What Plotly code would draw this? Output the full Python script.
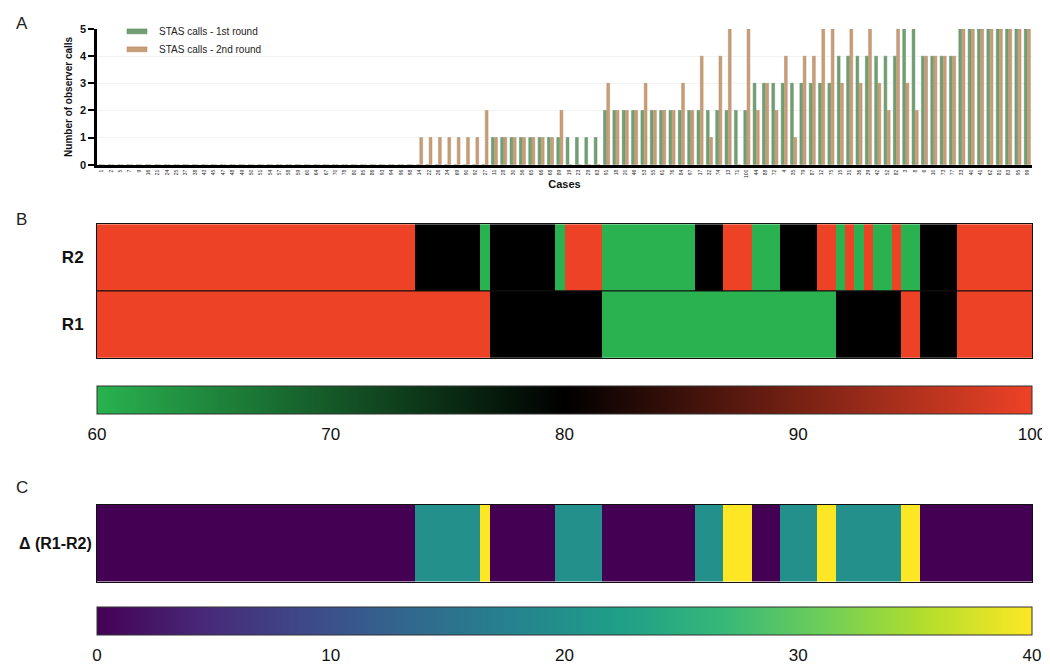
import plotly.graph_objects as go

# the page body adds an 8px margin; the figure is sized to fit the window after it
OFF = 8
W, H = 1050 - OFF, 671 - OFF

cases = ["1", "2", "5", "7", "9", "16", "21", "24", "25", "37", "38", "43", "45", "47", "48", "49", "50",
         "51", "54", "57", "58", "59", "60", "64", "67", "70", "78", "80", "85", "86", "93", "94", "96", "98",
         "14", "22", "26", "34", "69", "90", "92",
         "27",
         "11", "28", "30", "56", "65", "66", "68", "89",
         "19", "23", "29", "63",
         "91", "18", "20", "46", "53", "55", "61", "76", "84", "97",
         "17", "32", "74", "13", "71", "100",
         "44", "88", "72", "4", "35", "79", "87", "12", "75",
         "15", "31", "36", "39", "42", "52", "82", "3", "8",
         "6", "10", "73", "77", "33", "40", "41", "62", "81", "83", "95", "99"]

calls_r1 = [0, 0, 0, 0, 0, 0, 0, 0, 0, 0, 0, 0, 0, 0, 0, 0, 0,
            0, 0, 0, 0, 0, 0, 0, 0, 0, 0, 0, 0, 0, 0, 0, 0, 0,
            0, 0, 0, 0, 0, 0, 0,
            0,
            1, 1, 1, 1, 1, 1, 1, 1,
            1, 1, 1, 1,
            2, 2, 2, 2, 2, 2, 2, 2, 2, 2,
            2, 2, 2, 2, 2, 2,
            3, 3, 3, 3, 3, 3, 3, 3, 3,
            4, 4, 4, 4, 4, 4, 4, 5, 5,
            4, 4, 4, 4, 5, 5, 5, 5, 5, 5, 5, 5]

calls_r2 = [0, 0, 0, 0, 0, 0, 0, 0, 0, 0, 0, 0, 0, 0, 0, 0, 0,
            0, 0, 0, 0, 0, 0, 0, 0, 0, 0, 0, 0, 0, 0, 0, 0, 0,
            1, 1, 1, 1, 1, 1, 1,
            2,
            1, 1, 1, 1, 1, 1, 1, 2,
            0, 0, 0, 0,
            3, 2, 2, 2, 3, 2, 2, 2, 3, 2,
            4, 1, 4, 5, 0, 5,
            2, 3, 2, 4, 1, 4, 4, 5, 5,
            3, 5, 3, 5, 3, 2, 5, 3, 2,
            4, 4, 4, 4, 5, 5, 5, 5, 5, 5, 5, 5]

series_names = ["STAS calls - 1st round", "STAS calls - 2nd round"]
row_labels = ["R1", "R2"]
delta_label = "Δ (R1-R2)"
agree_ticks = [60, 70, 80, 90, 100]
delta_ticks = [0, 10, 20, 30, 40]
n_obs = 5

# percent agreement among observers, derived from the call counts
agree_r1 = [max(c, n_obs - c) * 100 / n_obs for c in calls_r1]
agree_r2 = [max(c, n_obs - c) * 100 / n_obs for c in calls_r2]
delta = [abs(a - b) for a, b in zip(agree_r1, agree_r2)]

GREEN_BAR = "#72a074"
TAN_BAR = "#c89e78"
FONT = "Liberation Sans, Arial, sans-serif"


def px_x(p):
    return (p - OFF) / W


def px_y(p):
    return 1 - (p - OFF) / H


LEFT, RIGHT = 97, 1032
XDOM = [px_x(LEFT), px_x(RIGHT)]
CB_LEN = RIGHT - LEFT
CB_B_TOP, CB_C_TOP, CB_THICK = 387, 612, 28

fig = go.Figure()

# Panel A bars
fig.add_trace(go.Bar(x=cases, y=calls_r1, name=series_names[0], marker=dict(color=GREEN_BAR, line=dict(color="#5c8a5e", width=0.5)),
                     xaxis="x", yaxis="y", showlegend=False))
fig.add_trace(go.Bar(x=cases, y=calls_r2, name=series_names[1], marker=dict(color=TAN_BAR, line=dict(color="#b08660", width=0.5)),
                     xaxis="x", yaxis="y", showlegend=False))


def cbar(top, tickvals):
    return dict(orientation="h", lenmode="pixels", len=CB_LEN, thickness=CB_THICK,
                x=px_x((LEFT + RIGHT) / 2), xanchor="center", y=px_y(top), yanchor="top",
                tickvals=tickvals, ticks="outside", ticklen=6, tickcolor="rgba(0,0,0,0)",
                tickfont=dict(size=17, family=FONT, color="#111"),
                outlinewidth=1, outlinecolor="#333", xpad=0, ypad=0)


# Panel B heatmap
gbr = [[0.0, "#29b24f"], [0.5, "#000000"], [1.0, "#ee4227"]]
fig.add_trace(go.Heatmap(z=[agree_r1, agree_r2], x=cases, y=row_labels, xaxis="x2", yaxis="y2",
                         colorscale=gbr, zmin=agree_ticks[0], zmax=agree_ticks[-1],
                         colorbar=cbar(CB_B_TOP, agree_ticks)))

# Panel C heatmap
fig.add_trace(go.Heatmap(z=[delta], x=cases, y=[delta_label], xaxis="x3", yaxis="y3",
                         colorscale="Viridis", zmin=delta_ticks[0], zmax=delta_ticks[-1],
                         colorbar=cbar(CB_C_TOP, delta_ticks)))

shapes = []
annotations = []

# small inside tick marks on the colour bars (top and bottom edges)
for top, tv in [(CB_B_TOP, agree_ticks), (CB_C_TOP, delta_ticks)]:
    lo, hi = tv[0], tv[-1]
    for v in tv[1:-1]:
        xp = px_x(LEFT + (v - lo) / (hi - lo) * CB_LEN)
        for y0, y1 in [(top, top + 4), (top + CB_THICK - 4, top + CB_THICK)]:
            shapes.append(dict(type="line", xref="paper", yref="paper", x0=xp, x1=xp,
                               y0=px_y(y0), y1=px_y(y1), line=dict(color="#222", width=1.2)))

# manual legend for panel A
leg_y = [25.7, 44.0]
leg_colors = [(GREEN_BAR, "#5c8a5e"), (TAN_BAR, "#b08660")]
for name, yy, (fc, lc) in zip(series_names, leg_y, leg_colors):
    shapes.append(dict(type="rect", xref="paper", yref="paper", x0=px_x(127), x1=px_x(147),
                       y0=px_y(yy + 2.5), y1=px_y(yy - 2.5), fillcolor=fc, line=dict(color=lc, width=0.5)))
    annotations.append(dict(text=name, xref="paper", yref="paper", x=px_x(157), y=px_y(yy),
                            xanchor="left", yanchor="middle", showarrow=False,
                            font=dict(size=10, family=FONT, color="#222")))

# separator line between R1 and R2
shapes.append(dict(type="line", xref="x2 domain", yref="y2 domain", x0=0, x1=1, y0=0.5, y1=0.5,
                   line=dict(color="#111", width=1.2)))

for letter, yy in [("A", 18), ("B", 217), ("C", 490)]:
    annotations.append(dict(text=letter, xref="paper", yref="paper", x=px_x(14), y=px_y(yy),
                            xanchor="left", yanchor="middle", showarrow=False,
                            font=dict(size=17, family=FONT, color="#222")))

fig.update_layout(
    width=W, height=H, margin=dict(l=0, r=0, t=0, b=0),
    paper_bgcolor="white", plot_bgcolor="white",
    barmode="group", bargap=0.3, bargroupgap=0.15,
    font=dict(family=FONT, color="#111"),
    shapes=shapes, annotations=annotations,
    xaxis=dict(domain=XDOM, anchor="y", type="category", range=[-0.5, len(cases) - 0.5],
               showline=True, linecolor="black", linewidth=3, ticks="", showgrid=False,
               tickangle=-90, tickfont=dict(size=5, family=FONT, color="#222"),
               title=dict(text="<b>Cases</b>", font=dict(size=11, family=FONT, color="#111"), standoff=4)),
    yaxis=dict(domain=[px_y(161.5), px_y(23.3)], anchor="x", range=[0, 5], tickvals=[0, 1, 2, 3, 4, 5],
               showline=True, linecolor="black", linewidth=2.5, ticks="outside", ticklen=6, tickwidth=2,
               tickcolor="black", showgrid=True, gridcolor="#f2f2f2", gridwidth=1, zeroline=False,
               tickfont=dict(size=11, family=FONT, color="#111", weight="bold"),
               title=dict(text="<b>Number of observer calls</b>", font=dict(size=10, family=FONT, color="#111"), standoff=6)),
    xaxis2=dict(domain=XDOM, anchor="y2", type="category", showticklabels=False, ticks="",
                showline=True, mirror=True, linecolor="#111", linewidth=1, showgrid=False),
    yaxis2=dict(domain=[px_y(358), px_y(222)], anchor="x2", type="category", ticks="",
                showline=True, mirror=True, linecolor="#111", linewidth=1, showgrid=False,
                tickfont=dict(size=17, family=FONT, color="#111", weight="bold"), ticklabelstandoff=9),
    xaxis3=dict(domain=XDOM, anchor="y3", type="category", showticklabels=False, ticks="",
                showline=True, mirror=True, linecolor="#111", linewidth=1, showgrid=False),
    yaxis3=dict(domain=[px_y(586), px_y(508)], anchor="x3", type="category", ticks="",
                showline=True, mirror=True, linecolor="#111", linewidth=1, showgrid=False,
                tickfont=dict(size=16, family=FONT, color="#111", weight="bold"), ticklabelstandoff=1),
)

fig.write_html("out.html")
